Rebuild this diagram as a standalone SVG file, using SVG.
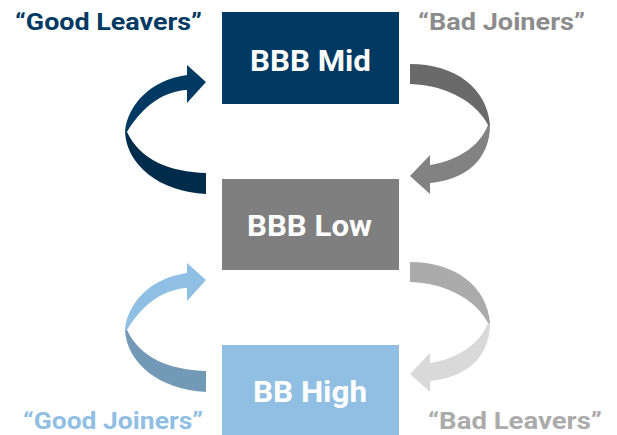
<svg xmlns="http://www.w3.org/2000/svg" width="617" height="435" viewBox="0 0 617 435">
<style>
text{font-family:Roboto,"Liberation Sans",sans-serif;font-weight:bold}
.box{font-size:30px;fill:#ffffff;text-anchor:middle}
.lbl{font-size:24.5px}
.up{fill:var(--u)}
.lo{fill:var(--l)}
</style>
<defs>
<g id="arrL">
<path class="lo" d="M125,131 C126,165 160,192 206,194 L206,173 C170,172 140,160 127,132 Z"/>
<path class="up" d="M125,131 C128,105 150,80 187,75 L187,65 L206,82 L187,103 L187,90 C165,91 143,105 127,132 Z"/>
</g>
<g id="arrR">
<path class="up" d="M410,64 C455,64 487,88 490,125 L488,125 C478,105 450,85 410,84 Z"/>
<path class="lo" d="M490,125 C490,160 465,180 430,183 L430,194 L410,176 L430,155 L430,165 C460,160 480,145 488,125 Z"/>
</g>
</defs>
<rect width="617" height="435" fill="#ffffff"/>
<g id="connectors">
<g id="good-leavers-arrow"><use href="#arrL" style="--u:#003A63;--l:#002B4B"/></g>
<g id="bad-joiners-arrow"><use href="#arrR" style="--u:#6A6A6A;--l:#828282"/></g>
<g id="good-joiners-arrow"><use href="#arrL" transform="translate(0,198)" style="--u:#8FBFE3;--l:#7299B6"/></g>
<g id="bad-leavers-arrow"><use href="#arrR" transform="translate(0,198)" style="--u:#ABABAB;--l:#D9D9D9"/></g>
</g>
<g id="bbb-mid">
<rect x="222" y="12" width="177" height="92" fill="#003A63"/>
<text class="box" x="310.5" y="71" textLength="121" lengthAdjust="spacingAndGlyphs">BBB Mid</text>
</g>
<g id="bbb-low">
<rect x="222" y="179" width="177" height="91" fill="#7F7F7F"/>
<text class="box" x="309.5" y="236" textLength="125" lengthAdjust="spacingAndGlyphs">BBB Low</text>
</g>
<g id="bb-high">
<rect x="222" y="345" width="177" height="90" fill="#90BFE3"/>
<text class="box" x="310" y="402" textLength="114" lengthAdjust="spacingAndGlyphs">BB High</text>
</g>
<g id="label-good-leavers">
<text class="lbl" x="15" y="30" fill="#003A63" textLength="187" lengthAdjust="spacingAndGlyphs">“Good Leavers”</text>
</g>
<g id="label-bad-joiners">
<text class="lbl" x="418" y="30" fill="#8C8C8C" textLength="167" lengthAdjust="spacingAndGlyphs">“Bad Joiners”</text>
</g>
<g id="label-good-joiners">
<text class="lbl" x="23" y="429" fill="#91BFE3" textLength="180" lengthAdjust="spacingAndGlyphs">“Good Joiners”</text>
</g>
<g id="label-bad-leavers">
<text class="lbl" x="428" y="429" fill="#ABABAB" textLength="174" lengthAdjust="spacingAndGlyphs">“Bad Leavers”</text>
</g>
</svg>
